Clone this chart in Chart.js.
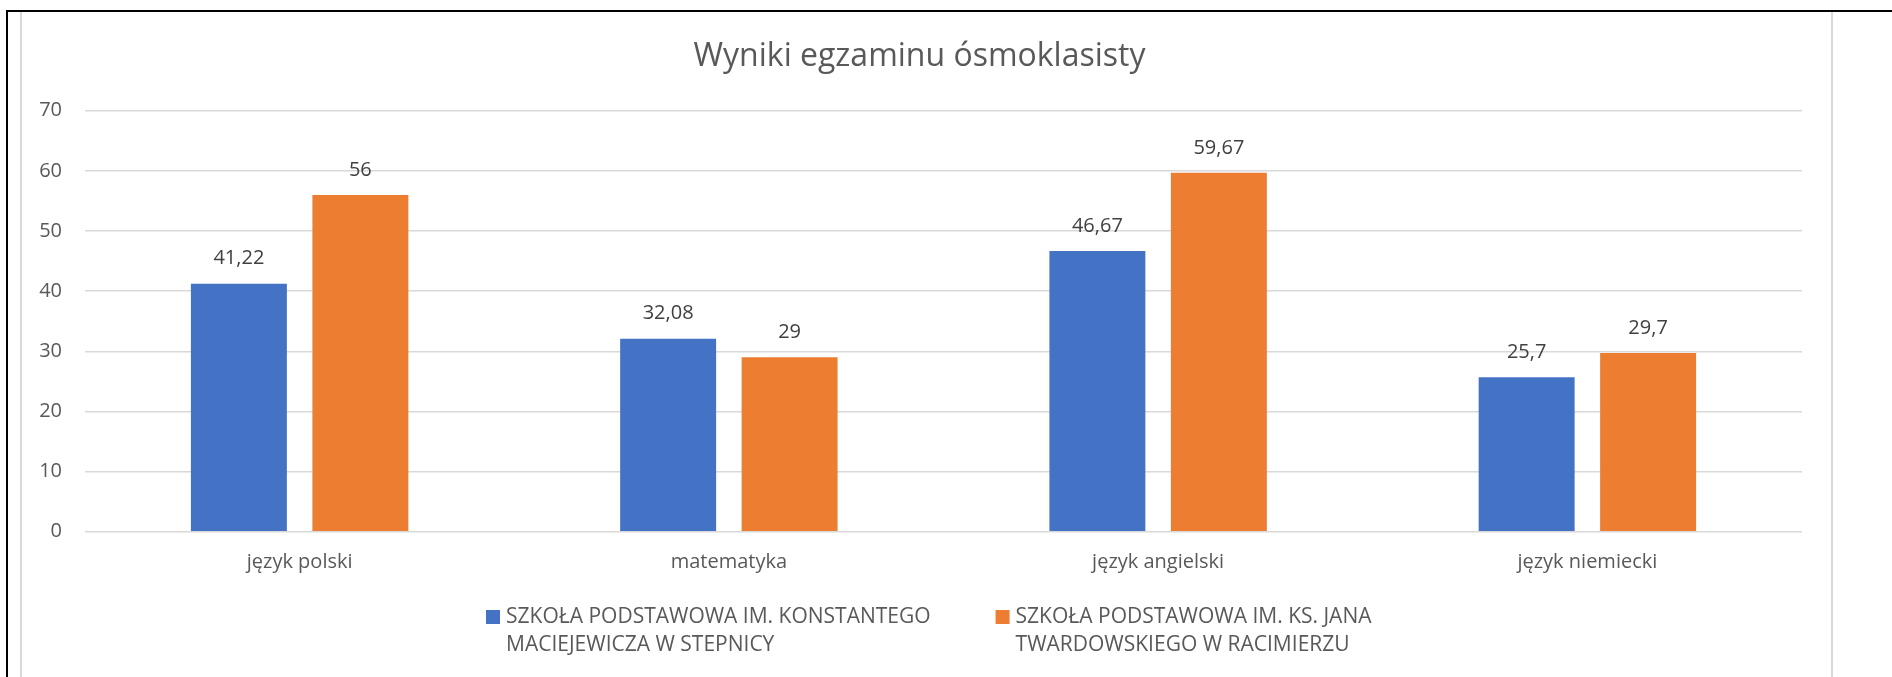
<!DOCTYPE html>
<html>
<head>
<meta charset="utf-8">
<script src="https://cdn.jsdelivr.net/npm/chart.js@4/dist/chart.umd.min.js"></script>
<style>
  html, body { margin: 0; padding: 0; background: #ffffff; }
  canvas { display: block; }
</style>
</head>
<body>
<canvas id="c" width="1892" height="677"></canvas>
<script>
const title = 'Wyniki egzaminu ósmoklasisty';
const categories = ['język polski', 'matematyka', 'język angielski', 'język niemiecki'];
const seriesNames = [
  ['SZKOŁA PODSTAWOWA IM. KONSTANTEGO', 'MACIEJEWICZA W STEPNICY'],
  ['SZKOŁA PODSTAWOWA IM. KS. JANA', 'TWARDOWSKIEGO W RACIMIERZU']
];
const stepnicaValues = [41.22, 32.08, 46.67, 25.7];
const racimierzValues = [56, 29, 59.67, 29.7];
const seriesColors = ['#4472C4', '#ED7D31'];
const yTicks = [0, 10, 20, 30, 40, 50, 60, 70];

const FONT = '"Open Sans", "Liberation Sans", sans-serif';
const TEXT = '#595959';

const fmt = v => String(v).replace('.', ',');

const frame = {
  id: 'frame',
  beforeDraw(chart) {
    const ctx = chart.ctx;
    ctx.save();
    ctx.fillStyle = '#ffffff';
    ctx.fillRect(0, 0, chart.width, chart.height);
    ctx.fillStyle = '#d9d9d9';
    ctx.fillRect(20, 12, 2, chart.height - 12);
    ctx.fillRect(1831, 12, 2, chart.height - 12);
    ctx.fillStyle = '#000000';
    ctx.fillRect(6, 10, chart.width - 6, 2);
    ctx.fillRect(6, 10, 2, chart.height - 10);
    ctx.restore();
  }
};

const valueLabels = {
  id: 'valueLabels',
  afterDatasetsDraw(chart) {
    const ctx = chart.ctx;
    ctx.save();
    ctx.font = '20px ' + FONT;
    ctx.fillStyle = '#404040';
    ctx.textAlign = 'center';
    ctx.textBaseline = 'middle';
    chart.data.datasets.forEach((ds, di) => {
      chart.getDatasetMeta(di).data.forEach((bar, i) => {
        ctx.fillText(fmt(ds.data[i]), bar.x, bar.y - 25);
      });
    });
    ctx.restore();
  }
};

const customLegend = {
  id: 'customLegend',
  afterDraw(chart) {
    const ctx = chart.ctx;
    ctx.save();
    ctx.font = '21px ' + FONT;
    ctx.textBaseline = 'middle';
    ctx.textAlign = 'left';
    const box = 14, gap = 6, itemGap = 65;
    let x = 486;
    const y0 = 617, lh = 28;
    chart.data.datasets.forEach((ds) => {
      ctx.fillStyle = ds.backgroundColor;
      ctx.fillRect(x, y0 - box / 2, box, box);
      ctx.fillStyle = TEXT;
      ds.label.forEach((line, li) => ctx.fillText(line, x + box + gap, y0 + li * lh));
      const w = Math.max(...ds.label.map(l => ctx.measureText(l).width));
      x += box + gap + w + itemGap;
    });
    ctx.restore();
  }
};

new Chart(document.getElementById('c'), {
  type: 'bar',
  data: {
    labels: categories,
    datasets: [
      { label: seriesNames[0], data: stepnicaValues, backgroundColor: seriesColors[0] },
      { label: seriesNames[1], data: racimierzValues, backgroundColor: seriesColors[1] }
    ]
  },
  options: {
    responsive: false,
    devicePixelRatio: 1,
    animation: false,
    categoryPercentage: 0.566,
    barPercentage: 0.79,
    layout: { padding: { left: 37, right: 90, top: 0, bottom: 0 } },
    plugins: {
      legend: { display: false },
      tooltip: { enabled: false },
      title: {
        display: true,
        text: title,
        color: TEXT,
        font: { family: FONT, size: 32, weight: 'normal' },
        padding: { top: 37.8, bottom: 34.5 }
      }
    },
    scales: {
      x: {
        grid: { display: false, drawTicks: false },
        border: { display: false },
        ticks: { color: TEXT, font: { family: FONT, size: 20 }, padding: 19 },
        afterFit: s => { s.height = 145.3; }
      },
      y: {
        min: 0, max: 70,
        afterBuildTicks: s => { s.ticks = yTicks.map(v => ({ value: v })); },
        grid: { color: '#d9d9d9', lineWidth: 1.5, drawTicks: false },
        border: { display: false },
        ticks: { color: TEXT, font: { family: FONT, size: 20 }, padding: 23 },
        afterFit: s => { s.width = 48; }
      }
    }
  },
  plugins: [frame, valueLabels, customLegend]
});
</script>
</body>
</html>
